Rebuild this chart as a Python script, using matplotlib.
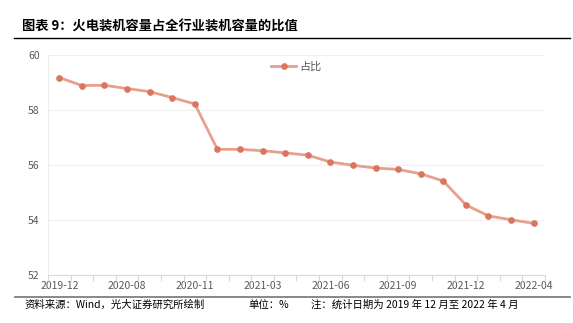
import matplotlib
matplotlib.use("Agg")
import matplotlib.pyplot as plt
from matplotlib.lines import Line2D

plt.rcParams['font.family'] = ['Noto Sans CJK SC', 'DejaVu Sans']

categories = ["2019-12", "2020-06", "2020-07", "2020-08", "2020-09", "2020-10",
              "2020-11", "2020-12", "2021-02", "2021-03", "2021-04", "2021-05",
              "2021-06", "2021-07", "2021-08", "2021-09", "2021-10", "2021-11",
              "2021-12", "2022-02", "2022-03", "2022-04"]
values = [59.19, 58.90, 58.91, 58.79, 58.68, 58.46, 58.23, 56.58, 56.58, 56.53,
          56.45, 56.37, 56.12, 56.00, 55.90, 55.85, 55.69, 55.43, 54.56, 54.16,
          54.02, 53.89]
label_every = 3
yticks = [52, 54, 56, 58, 60]
series_name = "占比"

fig = plt.figure(figsize=(5.73, 3.23), dpi=100)
ax = fig.add_axes([0.0838, 0.1477, 0.8672, 0.6811])

x = list(range(len(categories)))
ax.plot(x, values, color="#E8A08C", lw=2.0, marker="o", ms=3.8,
        mfc="#DA765E", mec="#DA765E", zorder=3)

ax.set_xlim(-0.5, len(categories) - 0.5)
ax.set_ylim(52, 60)
ax.set_yticks(yticks)
ax.set_yticklabels([str(v) for v in yticks], fontsize=7.5, color="#595959")
ax.set_xticks([i for i in x if i % label_every == 0])
ax.set_xticklabels([categories[i] for i in x if i % label_every == 0],
                   fontsize=7.5, color="#595959")
ax.set_xticks([i - 0.5 for i in range(len(categories) + 1)], minor=True)
ax.tick_params(axis='x', which='major', length=0, pad=4)
ax.tick_params(axis='x', which='minor', length=4, color="#D9D9D9", width=0.8)
ax.tick_params(axis='y', length=0, pad=6)
ax.grid(axis='y', color="#F0F0F0", lw=0.8)
ax.set_axisbelow(True)
for s in ['top', 'right']:
    ax.spines[s].set_visible(False)
ax.spines['left'].set_color("#EDEDED")
ax.spines['bottom'].set_color("#D9D9D9")

handle = Line2D([], [], color="#E8A08C", lw=2.0, marker="o", ms=3.8,
                mfc="#DA765E", mec="#DA765E")
ax.legend([handle], [series_name], loc="upper center", bbox_to_anchor=(0.5, 1.0),
          frameon=False, fontsize=8, labelcolor="#595959", handlelength=2.2,
          handletextpad=0.3, borderaxespad=0.2)

fig.text(22 / 573, 1 - 27 / 323, "图表 9：火电装机容量占全行业装机容量的比值",
         fontsize=9.5, fontweight="bold", va="center", ha="left", color="#000000")
fig.add_artist(Line2D([14 / 573, 570 / 573], [1 - 38 / 323, 1 - 38 / 323],
                      color="#000000", lw=1.0, transform=fig.transFigure))
fig.add_artist(Line2D([15 / 573, 570 / 573], [1 - 296.5 / 323, 1 - 296.5 / 323],
                      color="#7F7F7F", lw=1.3, transform=fig.transFigure))
fig.text(25 / 573, 1 - 305 / 323, "资料来源：Wind，光大证券研究所绘制",
         fontsize=7.5, va="center", ha="left", color="#000000")
fig.text(248 / 573, 1 - 305 / 323, "单位：%",
         fontsize=7.5, va="center", ha="left", color="#000000")
fig.text(311 / 573, 1 - 305 / 323, "注：统计日期为 2019 年 12 月至 2022 年 4 月",
         fontsize=7.5, va="center", ha="left", color="#000000")

fig.savefig("out.png", dpi=100)
